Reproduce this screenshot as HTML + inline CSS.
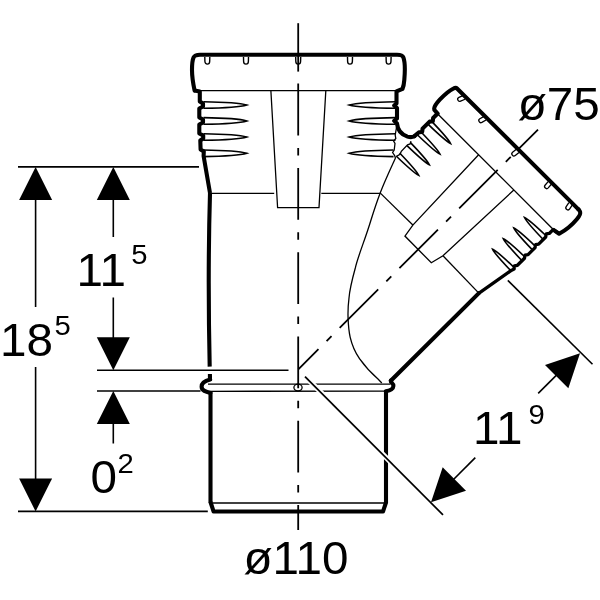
<!DOCTYPE html>
<html lang="en">
<head>
<meta charset="utf-8">
<title>Drawing</title>
<style>
html,body{margin:0;padding:0;background:#fff;}
body{width:600px;height:600px;overflow:hidden;}
svg{display:block;will-change:transform;}
svg path, svg line, svg ellipse{fill:none;stroke:#000;}
svg text{font-family:"Liberation Sans",sans-serif;fill:#000;}
</style>
</head>
<body>
<svg width="600" height="600" viewBox="0 0 600 600">
<rect x="0" y="0" width="600" height="600" fill="#fff"/>
<path d="M194.6,90.6 L199.8,91.6 L199.8,101.5 L203,103.5 L203,106.5 L199.3,108.5 L199.3,117.5 L203,119.5 L203,122.5 L199.3,124.5 L199.3,133.5 L203.2,135.5 L203.2,138.5 L200.3,140.5 L200.6,149.5 L203.8,151.5 L203.6,156 L210,193" stroke-width="4.1" stroke-linejoin="round"/>
<path d="M194.6,90.6 C193.2,84 192,78 192,70 C192,64 192.4,60 193.6,57.4 C194.6,55.4 196.5,54.9 200,54.8 L397,54.8 C400.5,54.8 402.6,55.5 403.4,57.6 C405,62 405,72 404.3,80 C404,84 403.3,87 402.5,88.8 L396.5,91.4 L396.5,103.5 L394.2,105.5 L397,108 L397,118.5 L394.2,120.8 L397,123.5 C397.6,130 401,134.5 407.5,136.6 C410,137.3 412.5,137.2 414,136.5" stroke-width="4.1" stroke-linejoin="round" stroke-linecap="round"/>
<line x1="201" y1="90.6" x2="396" y2="90.6" stroke-width="1.3" />
<path d="M204.8,57 L204.9,61.2 A2.4,2.9 0 0 0 209.70000000000002,61.2 L209.8,57" stroke-width="1.4" />
<path d="M243.5,57 L243.6,61.2 A2.4,2.9 0 0 0 248.4,61.2 L248.5,57" stroke-width="1.4" />
<path d="M295.7,57 L295.8,61.2 A2.4,2.9 0 0 0 300.59999999999997,61.2 L300.7,57" stroke-width="1.4" />
<path d="M347.5,57 L347.6,61.2 A2.4,2.9 0 0 0 352.4,61.2 L352.5,57" stroke-width="1.4" />
<path d="M386.1,57 L386.20000000000005,61.2 A2.4,2.9 0 0 0 391.0,61.2 L391.1,57" stroke-width="1.4" />
<path d="M203.5,101.7 C227.315,102.0 241.604,103.4 246.8,105 C241.604,106.6 227.315,108.0 203.5,108.3" stroke-width="1.6" />
<path d="M203.5,117.60000000000001 C227.315,117.9 241.604,119.30000000000001 246.8,120.9 C241.604,122.5 227.315,123.9 203.5,124.2" stroke-width="1.6" />
<path d="M203.5,133.7 C227.315,134.0 241.604,135.4 246.8,137 C241.604,138.6 227.315,140.0 203.5,140.3" stroke-width="1.6" />
<path d="M203.5,150.0 C227.315,150.3 241.604,151.70000000000002 246.8,153.3 C241.604,154.9 227.315,156.3 203.5,156.60000000000002" stroke-width="1.6" />
<path d="M395.5,101.7 C370.03499999999997,102.0 354.756,103.4 349.2,105 C354.756,106.6 370.03499999999997,108.0 395.5,108.3" stroke-width="1.6" />
<path d="M395.5,117.60000000000001 C370.03499999999997,117.9 354.756,119.30000000000001 349.2,120.9 C354.756,122.5 370.03499999999997,123.9 395.5,124.2" stroke-width="1.6" />
<path d="M395.5,133.7 C370.03499999999997,134.0 354.756,135.4 349.2,137 C354.756,138.6 370.03499999999997,140.0 395.5,140.3" stroke-width="1.6" />
<path d="M393.5,150.0 C369.135,150.3 354.51599999999996,151.70000000000002 349.2,153.3 C354.51599999999996,154.9 369.135,156.3 393.5,156.60000000000002" stroke-width="1.6" />
<path d="M396.6,127 L395.2,135 L395.8,138.5 L393.6,141 L395,143.5 L394.2,150 L392.6,152.5 L394.6,155.5 L395.5,158" stroke-width="1.3" />
<path d="M270.9,91 L277.6,207.7 L319,207.7 L325.8,91" stroke-width="1.3" stroke-linejoin="miter"/>
<line x1="210" y1="193.3" x2="274.2" y2="193.3" stroke-width="1.3" />
<line x1="321.3" y1="193.3" x2="380.2" y2="193.3" stroke-width="1.3" />
<path d="M210,193 C208.6,240 208,290 209.7,366.6" stroke-width="4.1" />
<line x1="209.9" y1="374" x2="210" y2="380" stroke-width="4.1" />
<path d="M210.2,379.6 C206,380.6 201.6,382.2 201.6,386.8 C201.6,390.8 206,392 210.4,393" stroke-width="4.1" stroke-linecap="round"/>
<line x1="210.5" y1="392" x2="210.5" y2="503" stroke-width="4.1" />
<path d="M210.5,502 L213.6,511.5 L383,511.5 L386,502.5" stroke-width="4.1" stroke-linejoin="round"/>
<line x1="386" y1="391" x2="386" y2="503.5" stroke-width="4.1" />
<line x1="213" y1="503" x2="384.5" y2="503" stroke-width="1.3" />
<line x1="208" y1="384.1" x2="390.5" y2="384.1" stroke-width="1.3" />
<line x1="208" y1="391.3" x2="386" y2="391.1" stroke-width="1.3" />
<path d="M390.8,380.6 C390.6,383.3 393.6,382.7 393.4,386 C393.2,389.3 390,390.6 385.8,391.2" stroke-width="4.1" stroke-linecap="round" stroke-linejoin="round"/>
<ellipse cx="298" cy="387.6" rx="4.1" ry="3.4" stroke-width="1.3"/>
<path d="M395.5,158 C389,172 384,183 380.2,193 C376,204 373.5,212 371,220 C365,240 358,256 355.3,268 C352,280 349.6,290 349,298 C348,306 347.8,312 348.1,318.7 C348.4,326 349,332 350.2,337.3 C352,345 355,352 359.5,358.7 C365,366.5 371,373 378,379 L381.8,383" stroke-width="1.3" />
<line x1="390.8" y1="380.8" x2="478.9" y2="293.1" stroke-width="4.1" stroke-linecap="round"/>
<g transform="translate(298.3,369.3) rotate(-45)">
<path d="M181.3,73.8 L221,80.8 L223.5,81.7 L226,79.60000000000001 L228.5,81.4 L238.5,81.4 L241,79.60000000000001 L243.5,81.4 L253.5,81.4 L256,79.60000000000001 L258.5,81.4 L268.5,81.4 L271,79.60000000000001 L273.5,81.4 L279,81.4 L280.3,88.6" stroke-width="3.3" stroke-linejoin="round"/>
<path d="M279,81.4 L280.3,88.6 C287,90.6 297,91.4 303.4,90.8 C307,90.4 309.5,89.6 310.2,88.4 C311.0,87.8 311.2,87 311.2,84" stroke-width="4.1" stroke-linejoin="round"/>
<path d="M311.2,85 L310.8,-86.3 C310.8,-87.8 309.8,-88.4 308.3,-88.8 C304,-90.2 297,-90.8 291,-90.6 C286,-90.4 282,-89.6 280.6,-88.4 L279.6,-87.2 L279.4,-82.3 L273,-82.3 L270.5,-80.3 L268,-82.3 L258,-82.3 L255.5,-80.3 L253,-82.3 L247,-82.8" stroke-width="4.1" stroke-linejoin="round" stroke-linecap="round"/>
<path d="M241,-81.7 L238.5,-80.3 L236,-81.5 L227,-81.3 L224,-80.1 L219.5,-81.3" stroke-width="1.3" />
<line x1="279.2" y1="-82.3" x2="279.2" y2="81.4" stroke-width="1.3" />
<path d="M310.38,-76.95 L305.92,-78.73 A2.1,2.1 0 0 0 304.36,-74.83 L308.82,-73.05" stroke-width="1.3" />
<path d="M310.17,-47.52 L305.55,-48.82 A2.1,2.1 0 0 0 304.41,-44.78 L309.03,-43.48" stroke-width="1.3" />
<path d="M309.80,-1.49 L305.03,-1.96 A2.1,2.1 0 0 0 304.62,2.22 L309.40,2.69" stroke-width="1.3" />
<path d="M309.42,43.91 L304.64,44.31 A2.1,2.1 0 0 0 304.99,48.49 L309.78,48.09" stroke-width="1.3" />
<path d="M309.18,73.44 L304.48,74.39 A2.1,2.1 0 0 0 305.31,78.51 L310.02,77.56" stroke-width="1.3" />
<path d="M265.0,80.4 C265.3,66.5 266.0,55.936 267.3,52.6 C268.6,55.936 269.3,66.5 269.6,80.4" stroke-width="1.6" />
<path d="M265.0,-81.3 C265.3,-66.65 266.0,-55.516 267.3,-52 C268.6,-55.516 269.3,-66.65 269.6,-81.3" stroke-width="1.6" />
<path d="M250.0,80.4 C250.3,66.5 251.0,55.936 252.3,52.6 C253.60000000000002,55.936 254.3,66.5 254.60000000000002,80.4" stroke-width="1.6" />
<path d="M250.0,-81.3 C250.3,-66.65 251.0,-55.516 252.3,-52 C253.60000000000002,-55.516 254.3,-66.65 254.60000000000002,-81.3" stroke-width="1.6" />
<path d="M235.0,80.4 C235.3,66.5 236.0,55.936 237.3,52.6 C238.60000000000002,55.936 239.3,66.5 239.60000000000002,80.4" stroke-width="1.6" />
<path d="M235.0,-81.3 C235.3,-66.65 236.0,-55.516 237.3,-52 C238.60000000000002,-55.516 239.3,-66.65 239.60000000000002,-81.3" stroke-width="1.6" />
<path d="M220.0,80.4 C220.3,66.5 221.0,55.936 222.3,52.6 C223.60000000000002,55.936 224.3,66.5 224.60000000000002,80.4" stroke-width="1.6" />
<path d="M220.0,-81.3 C220.3,-66.65 221.0,-55.516 222.3,-52 C223.60000000000002,-55.516 224.3,-66.65 224.60000000000002,-81.3" stroke-width="1.6" />
<path d="M279.2,-24.2 L183,-21 L169.6,-18.8 L169.4,18.7 L182.6,22 L279.2,25.6" stroke-width="1.3" stroke-linejoin="miter"/>
<line x1="182.6" y1="-66.9" x2="183" y2="-21" stroke-width="1.3" />
<line x1="182.6" y1="22" x2="181.5" y2="73.8" stroke-width="1.3" />
</g>
<line x1="298.2" y1="23.2" x2="298.2" y2="71.6" stroke-width="1.8" />
<path d="M298.2,83.6 L298.2,530" stroke-width="1.8" stroke-dasharray="51.8 12.5 7.5 12.5"/>
<path d="M298.3,369.3 L538,129.6" stroke-width="1.8" stroke-dasharray="54.5 11.5 7 11.5" stroke-dashoffset="26"/>
<line x1="18" y1="166.9" x2="199" y2="166.9" stroke-width="1.6" />
<line x1="18" y1="511.4" x2="207.8" y2="511.4" stroke-width="1.6" />
<line x1="97" y1="370.3" x2="288.5" y2="370.3" stroke-width="1.6" />
<line x1="97" y1="391" x2="200.5" y2="391" stroke-width="1.6" />
<line x1="35.6" y1="190" x2="35.6" y2="307" stroke-width="1.6" />
<line x1="35.6" y1="367" x2="35.6" y2="490" stroke-width="1.6" />
<polygon points="35.60,166.90 52.10,199.90 19.10,199.90" fill="#000" stroke="none"/>
<polygon points="35.60,511.40 19.10,478.40 52.10,478.40" fill="#000" stroke="none"/>
<line x1="113.3" y1="190" x2="113.3" y2="237" stroke-width="1.6" />
<line x1="113.3" y1="297.5" x2="113.3" y2="345" stroke-width="1.6" />
<polygon points="113.30,166.90 129.80,199.90 96.80,199.90" fill="#000" stroke="none"/>
<polygon points="113.30,370.30 96.80,337.30 129.80,337.30" fill="#000" stroke="none"/>
<line x1="113.3" y1="420" x2="113.3" y2="443.5" stroke-width="1.6" />
<polygon points="113.30,391.00 129.80,424.00 96.80,424.00" fill="#000" stroke="none"/>
<line x1="308" y1="379.3" x2="443" y2="514.6" stroke-width="5.2" style="stroke:#fff"/>
<line x1="305" y1="376.6" x2="443" y2="514.9" stroke-width="1.7000000000000002" />
<line x1="507.8" y1="280.4" x2="592.5" y2="364.3" stroke-width="1.6" />
<line x1="475.3" y1="457.6" x2="450" y2="483" stroke-width="1.6" />
<line x1="538.2" y1="393.4" x2="560" y2="371.6" stroke-width="1.6" />
<polygon points="431.00,502.30 442.67,467.30 466.00,490.63" fill="#000" stroke="none"/>
<polygon points="580.00,353.30 568.33,388.30 545.00,364.97" fill="#000" stroke="none"/>
<text transform="translate(243.4,574.4) scale(1.045,1)" font-size="45.6">ø110</text>
<text transform="translate(517.7,120.2) scale(1.045,1)" font-size="45.6">ø75</text>
<text transform="translate(76.5,285.8) scale(1.045,1)" font-size="45.6">11</text>
<text transform="translate(131.3,264.2) scale(1.045,1)" font-size="28">5</text>
<text transform="translate(0.1,355.7) scale(1.045,1)" font-size="45.6">18</text>
<text transform="translate(54.5,335) scale(1.045,1)" font-size="28">5</text>
<text transform="translate(90.5,493.2) scale(1.045,1)" font-size="45.6">0</text>
<text transform="translate(117.6,473) scale(1.045,1)" font-size="28">2</text>
<text transform="translate(473,443.8) scale(1.045,1)" font-size="45.6">11</text>
<text transform="translate(528.6,423.6) scale(1.045,1)" font-size="28">9</text>
</svg>
</body>
</html>
